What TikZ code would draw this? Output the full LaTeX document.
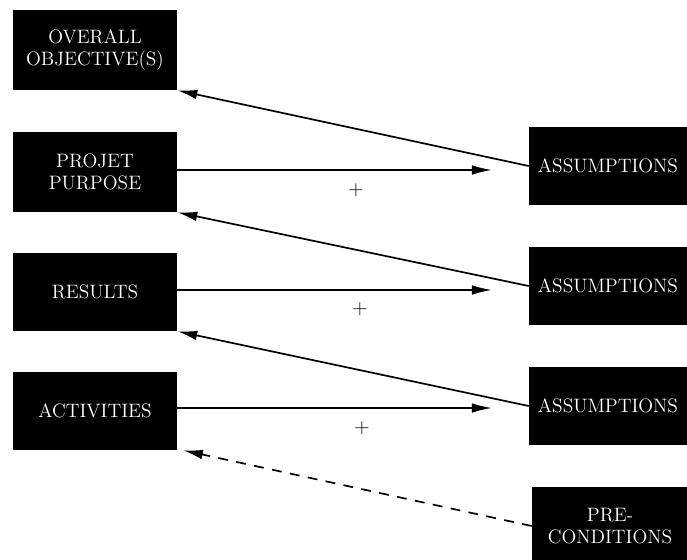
\documentclass[tikz,border=0pt]{standalone}
\usetikzlibrary{arrows.meta}
\begin{document}
\begin{tikzpicture}[x=0.025cm, y=-0.025cm,
    box/.style={fill=black, text=white, align=center, inner sep=0pt,
      font=\fontsize{13.8}{16}\selectfont},
    link/.style={line width=1.2pt, -{Latex[length=0.5cm, width=0.24cm]}}]
  \useasboundingbox (0,0) rectangle (687,560);

  % left column
  \node [box, minimum width=4.1cm, minimum height=2cm](obj) at (95,50) {OVERALL\\OBJECTIVE(S)};
  \node [box, minimum width=4.1cm, minimum height=2cm](purp) at (95,172) {PROJET\\PURPOSE};
  \node [box, minimum width=4.1cm, minimum height=1.95cm](res) at (95,292) {RESULTS};
  \node [box, minimum width=4.1cm, minimum height=1.95cm](act) at (95,411) {ACTIVITIES};

  % right column
  \node [box, minimum width=3.95cm, minimum height=1.95cm](asA) at (608,166) {ASSUMPTIONS};
  \node [box, minimum width=3.95cm, minimum height=1.95cm](asB) at (608,286) {ASSUMPTIONS};
  \node [box, minimum width=3.95cm, minimum height=1.95cm](asC) at (608,406) {ASSUMPTIONS};
  \node [box, minimum width=3.9cm, minimum height=1.95cm](pre) at (610,526) {PRE-\\CONDITIONS};

  % ends of the horizontal arrows
  \coordinate (endA) at (492,170);
  \coordinate (endB) at (492,290);
  \coordinate (endC) at (492,408);

  \draw [link] (purp.east |- endA) -- (endA);
  \draw [link] (res.east |- endB) -- (endB);
  \draw [link] (act.east |- endC) -- (endC);

  \draw [link] (asA.west) -- (obj.south east);
  \draw [link] (asB.west) -- (purp.south east);
  \draw [link] (asC.west) -- (res.south east);
  \draw [link, dashed, dash pattern=on 7pt off 6pt] (pre.west) -- ([xshift=4pt]act.south east);

  % plus signs
  \node (plA) at (356,190) {\fontsize{15}{15}\selectfont +};
  \node (plB) at (360,309) {\fontsize{15}{15}\selectfont +};
  \node (plC) at (362,428) {\fontsize{15}{15}\selectfont +};
\end{tikzpicture}
\end{document}
